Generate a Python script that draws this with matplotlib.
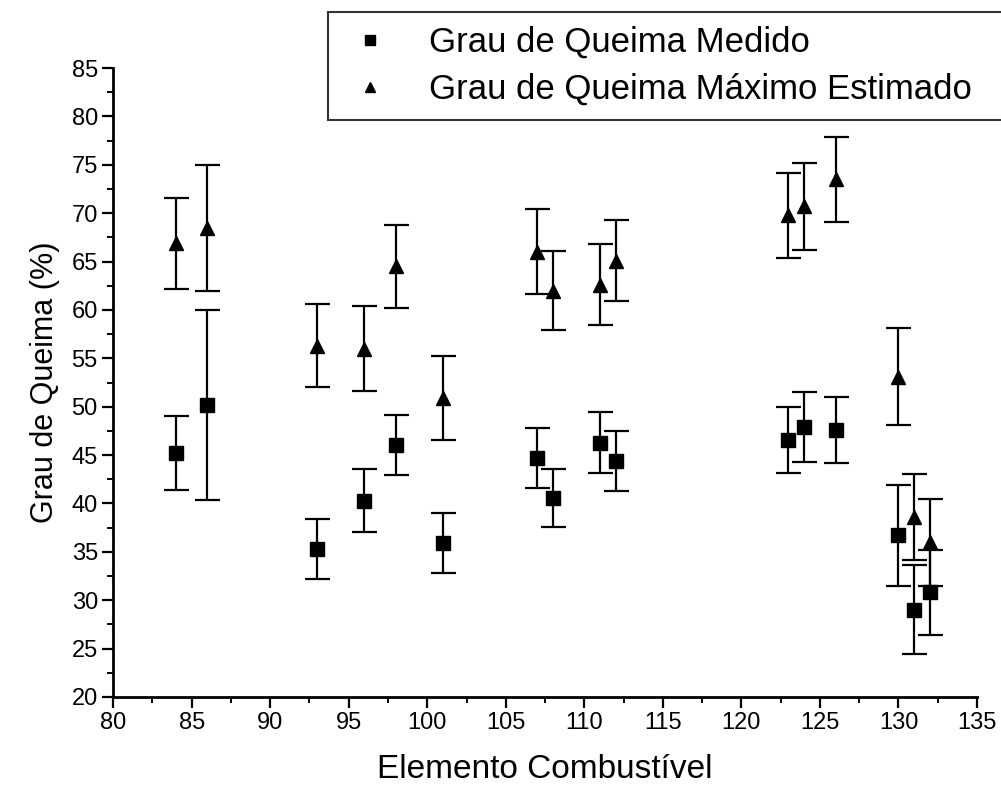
import matplotlib
matplotlib.use("Agg")
import matplotlib.pyplot as plt
from matplotlib.lines import Line2D
from matplotlib.ticker import MultipleLocator

plt.rcParams["font.family"] = ["Liberation Sans", "DejaVu Sans"]

# ----------------------------- data -----------------------------
elemento = [84, 86, 93, 96, 98, 101, 107, 108, 111, 112, 123, 124, 126, 130, 131, 132]

medido = [45.2, 50.2, 35.3, 40.3, 46.0, 35.9, 44.7, 40.6, 46.3, 44.4,
          46.6, 47.9, 47.6, 36.7, 29.0, 30.8]
medido_err = [3.8, 9.8, 3.1, 3.3, 3.1, 3.1, 3.1, 3.0, 3.2, 3.1,
              3.4, 3.6, 3.4, 5.2, 4.6, 4.4]

maximo = [66.9, 68.5, 56.3, 56.0, 64.5, 50.9, 66.0, 62.0, 62.6, 65.1,
          69.8, 70.7, 73.5, 53.1, 38.6, 36.0]
maximo_err = [4.7, 6.5, 4.3, 4.4, 4.3, 4.3, 4.4, 4.1, 4.2, 4.2,
              4.4, 4.5, 4.4, 5.0, 4.4, 4.5]

LABEL_MED = "Grau de Queima Medido"
LABEL_MAX = "Grau de Queima Máximo Estimado"


def main():
    fig = plt.figure(figsize=(10.01, 7.92), dpi=100)
    ax = fig.add_axes([0.113, 0.12, 0.863, 0.794])

    common = dict(ls="none", color="black", ecolor="black", elinewidth=1.6,
                  capsize=9, capthick=1.6)
    ax.errorbar(elemento, medido, yerr=medido_err, marker="s", ms=10, **common)
    ax.errorbar(elemento, maximo, yerr=maximo_err, marker="^", ms=10, **common)

    ax.set_xlim(80, 135)
    ax.set_ylim(20, 85)
    ax.xaxis.set_major_locator(MultipleLocator(5))
    ax.xaxis.set_minor_locator(MultipleLocator(2.5))
    ax.yaxis.set_major_locator(MultipleLocator(5))
    ax.yaxis.set_minor_locator(MultipleLocator(2.5))

    for side in ("top", "right"):
        ax.spines[side].set_visible(False)
    for side in ("left", "bottom"):
        ax.spines[side].set_linewidth(2)
    ax.tick_params(which="major", direction="out", length=8, width=1.6,
                   labelsize=17, pad=3)
    ax.tick_params(which="minor", direction="out", length=4, width=1.4)

    ax.set_xlabel("Elemento Combustível", fontsize=24, labelpad=14)
    ax.set_ylabel("Grau de Queima (%)", fontsize=22, labelpad=8)

    # legend: markers only, framed box that runs off the right edge
    handles = [Line2D([], [], ls="none", marker="s", ms=7, color="black"),
               Line2D([], [], ls="none", marker="^", ms=7, color="black")]
    leg = fig.legend(handles, [LABEL_MED, LABEL_MAX],
                     loc="upper left", mode="expand",
                     bbox_to_anchor=(328 / 1001, 1 - 117 / 792, 0.7, 105 / 792),
                     fontsize=25, frameon=True, fancybox=False,
                     handlelength=1.6, handletextpad=0.9, borderpad=0.4,
                     labelspacing=0.4, borderaxespad=0)
    leg.get_frame().set_edgecolor("black")
    leg.get_frame().set_linewidth(1.5)

    fig.savefig("out.png", dpi=100)


if __name__ == "__main__":
    main()
